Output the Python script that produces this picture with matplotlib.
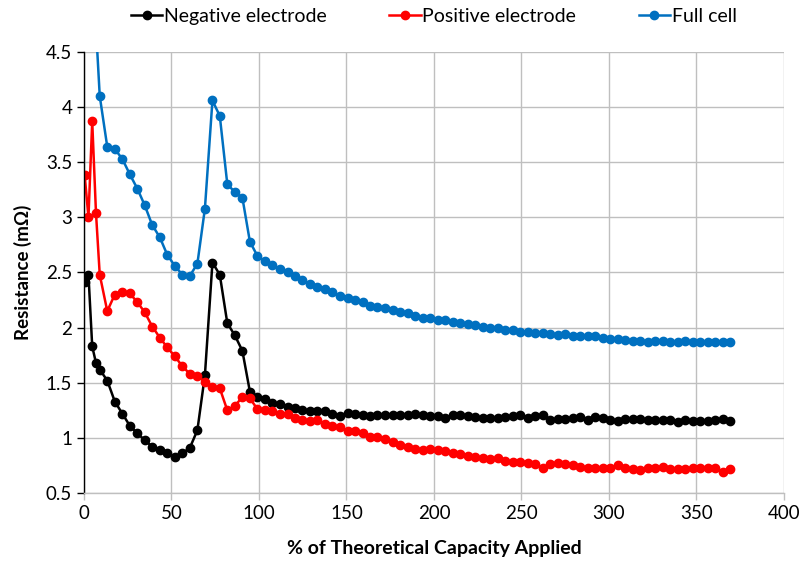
import matplotlib
matplotlib.use('Agg')
import matplotlib.pyplot as plt

# % of theoretical capacity applied
capacity = [0.4, 2.55, 4.7, 6.85,
            9.0, 13.3, 17.6, 21.9, 26.2, 30.5, 34.7, 39.0, 43.3, 47.6,
            51.9, 56.2, 60.5, 64.8, 69.1, 73.4, 77.6, 81.9, 86.2, 90.5,
            94.8, 99.1, 103.4, 107.7, 112.0, 116.3, 120.5, 124.8, 129.1, 133.4,
            137.7, 142.0, 146.3, 150.6, 154.9, 159.2, 163.4, 167.7, 172.0, 176.3,
            180.6, 184.9, 189.2, 193.5, 197.8, 202.1, 206.3, 210.6, 214.9, 219.2,
            223.5, 227.8, 232.1, 236.4, 240.7, 245.0, 249.2, 253.5, 257.8, 262.1,
            266.4, 270.7, 275.0, 279.3, 283.6, 287.9, 292.1, 296.4, 300.7, 305.0,
            309.3, 313.6, 317.9, 322.2, 326.5, 330.8, 335.0, 339.3, 343.6, 347.9,
            352.2, 356.5, 360.8, 365.1, 369.4]

negative = [2.41, 2.48, 1.83, 1.68,
            1.62, 1.52, 1.33, 1.22, 1.11, 1.04, 0.98, 0.92, 0.89, 0.86,
            0.83, 0.86, 0.91, 1.07, 1.57, 2.59, 2.48, 2.04, 1.93, 1.79,
            1.42, 1.37, 1.35, 1.32, 1.31, 1.28, 1.27, 1.25, 1.24, 1.24,
            1.24, 1.22, 1.20, 1.23, 1.22, 1.21, 1.20, 1.21, 1.21, 1.21,
            1.21, 1.21, 1.22, 1.21, 1.20, 1.20, 1.18, 1.21, 1.21, 1.20,
            1.19, 1.18, 1.18, 1.18, 1.19, 1.20, 1.21, 1.18, 1.20, 1.21,
            1.16, 1.17, 1.17, 1.18, 1.19, 1.16, 1.19, 1.18, 1.16, 1.15,
            1.17, 1.17, 1.17, 1.16, 1.16, 1.16, 1.16, 1.14, 1.16, 1.15,
            1.15, 1.15, 1.16, 1.17, 1.15]

positive = [3.38, 3.00, 3.87, 3.04,
            2.48, 2.15, 2.30, 2.32, 2.31, 2.23, 2.14, 2.01, 1.91, 1.82,
            1.74, 1.65, 1.58, 1.56, 1.51, 1.46, 1.45, 1.25, 1.29, 1.37,
            1.36, 1.26, 1.25, 1.24, 1.22, 1.22, 1.18, 1.16, 1.15, 1.16,
            1.13, 1.11, 1.10, 1.06, 1.06, 1.04, 1.01, 1.01, 0.99, 0.96,
            0.94, 0.92, 0.90, 0.89, 0.90, 0.89, 0.88, 0.86, 0.85, 0.84,
            0.83, 0.82, 0.81, 0.82, 0.79, 0.78, 0.78, 0.77, 0.76, 0.73,
            0.76, 0.77, 0.76, 0.75, 0.74, 0.73, 0.73, 0.73, 0.73, 0.75,
            0.73, 0.72, 0.71, 0.73, 0.73, 0.74, 0.72, 0.72, 0.72, 0.73,
            0.73, 0.73, 0.73, 0.69, 0.72]

full_cell = [5.79, 5.48, 5.70, 4.72,
             4.10, 3.64, 3.62, 3.53, 3.39, 3.26, 3.11, 2.93, 2.82, 2.66,
             2.56, 2.48, 2.47, 2.58, 3.08, 4.06, 3.92, 3.30, 3.23, 3.18,
             2.78, 2.65, 2.60, 2.57, 2.53, 2.50, 2.47, 2.43, 2.40, 2.37,
             2.35, 2.32, 2.29, 2.27, 2.25, 2.23, 2.20, 2.19, 2.18, 2.16,
             2.14, 2.13, 2.11, 2.09, 2.09, 2.07, 2.07, 2.05, 2.04, 2.03,
             2.02, 2.01, 2.00, 2.00, 1.98, 1.98, 1.96, 1.96, 1.95, 1.95,
             1.94, 1.93, 1.94, 1.92, 1.92, 1.92, 1.92, 1.91, 1.90, 1.90,
             1.89, 1.88, 1.88, 1.87, 1.88, 1.88, 1.87, 1.87, 1.88, 1.87,
             1.87, 1.87, 1.87, 1.87, 1.87]

plt.rcParams['font.family'] = ['Lato', 'DejaVu Sans']

fig = plt.figure(figsize=(8.03, 5.65), dpi=100)
ax = fig.add_axes([0.1046, 0.1274, 0.8717, 0.7806])

style = dict(marker='o', markersize=6, linewidth=1.8, clip_on=True)
ax.plot(capacity, negative, color='black', label='Negative electrode', **style)
ax.plot(capacity, positive, color='#FF0000', label='Positive electrode', **style)
ax.plot(capacity, full_cell, color='#0070C0', label='Full cell', **style)

ax.set_xlim(0, 400)
ax.set_ylim(0.5, 4.5)
ax.set_xticks(range(0, 401, 50))
ax.set_yticks([0.5, 1, 1.5, 2, 2.5, 3, 3.5, 4, 4.5])
ax.set_yticklabels(['0.5', '1', '1.5', '2', '2.5', '3', '3.5', '4', '4.5'])

ax.grid(True, color='#BFBFBF', linewidth=1.0)
ax.set_axisbelow(True)
for side in ['top', 'right']:
    ax.spines[side].set_visible(False)
ax.spines['left'].set_color('black')
ax.spines['left'].set_linewidth(1.0)
ax.spines['bottom'].set_color('#BFBFBF')
ax.spines['bottom'].set_linewidth(1.0)
ax.tick_params(axis='y', colors='black', labelsize=13.5, length=5, width=1)
ax.tick_params(axis='x', color='#BFBFBF', labelcolor='black', labelsize=13.5, length=5, width=1)

ax.set_xlabel('% of Theoretical Capacity Applied', fontsize=14, fontweight='bold', labelpad=13)
ax.set_ylabel('Resistance (mΩ)', fontsize=13.5, fontweight='bold', labelpad=10)

ax.legend(loc='lower center', bbox_to_anchor=(0.5, 1.035), ncol=3, frameon=False,
          fontsize=14, handlelength=1.6, handletextpad=0.1, columnspacing=3.2,
          borderaxespad=0.2)

fig.savefig('out.png', dpi=100)
